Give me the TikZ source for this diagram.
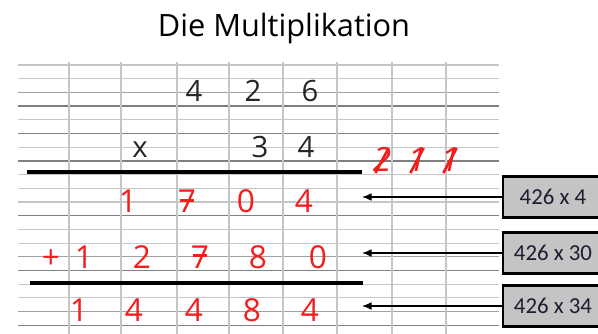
\documentclass[tikz,border=0pt]{standalone}
\usepackage{fontspec}
\setmainfont{Open Sans}
\newfontfamily\kastenschrift{Carlito}
\usetikzlibrary{arrows,arrows.meta}
\definecolor{rotstift}{RGB}{245,28,28}
\definecolor{linieHell}{RGB}{198,198,198}
\definecolor{linieMittel}{RGB}{160,160,160}
\definecolor{linieDunkel}{RGB}{128,128,128}
\definecolor{kastengrau}{RGB}{196,196,196}
\definecolor{kastentext}{RGB}{28,30,48}
\newcommand{\sieben}{\ooalign{7\cr\hidewidth\raisebox{0.36em}{\rule{0.42em}{0.07em}}\hidewidth\cr}}
\newcommand{\gestrichen}[1]{\ooalign{\textit{#1}\cr\hidewidth\raisebox{-0.05em}{\rotatebox{62}{\rule{0.85em}{0.08em}}}\hidewidth\cr}}
\begin{document}
\begin{tikzpicture}[%
        x=0.02cm, y=-0.02cm,
        every node/.style={inner sep=0pt, outer sep=0pt},
        titel/.style={anchor=base, font=\fontsize{17.5}{20}\selectfont},
        ziffer/.style={anchor=base, font=\fontsize{16.7}{19}\selectfont, text=black!85},
        rot/.style={anchor=base, font=\fontsize{18}{20}\selectfont, text=rotstift},
        uebertrag/.style={anchor=base, font=\fontsize{19}{22}\selectfont, text=rotstift},
        hell/.style={draw=linieHell, line width=0.6pt},
        mittel/.style={draw=linieMittel, line width=0.7pt},
        dunkel/.style={draw=linieDunkel, line width=0.8pt},
        senkrecht/.style={draw=linieHell, line width=0.9pt},
        strich/.style={draw=black, line width=2.4pt},
        kastenbox/.style={draw=black, line width=1.4pt, fill=kastengrau,
          minimum width=2cm, minimum height=0.82cm,
          font=\kastenschrift\fontsize{13}{14}\selectfont, text=kastentext},
        >={Latex[length=5.5pt,width=4.5pt]}
      ]
      \useasboundingbox (0,0) rectangle (598,334);
      % Linienpapier
      \foreach \k in {0,1,4,6,8,9,10,12,13,16,17}
        \draw [hell] (18,{65+13.7*\k}) -- (499,{65+13.7*\k});
      \foreach \k in {2,14,18}
        \draw [mittel] (18,{65+13.7*\k}) -- (499,{65+13.7*\k});
      \foreach \k in {3,5,7,11,15,19}
        \draw [dunkel] (18,{65+13.7*\k}) -- (499,{65+13.7*\k});
      \foreach \x in {69,121,177,229,283,337,392,446}
        \draw [senkrecht] (\x,62) -- (\x,334);
      \draw [strich] (27,172) -- (362,172);
      \draw [strich] (30,283) -- (363,283);

      \node [titel] (t) at (284,37) {Die Multiplikation};

      \node [ziffer] (a1) at (194,102) {4};
      \node [ziffer] (a2) at (253,102) {2};
      \node [ziffer] (a3) at (310,102) {6};
      \node [ziffer] (mal) at (140,158) {x};
      \node [ziffer] (b1) at (260,158) {3};
      \node [ziffer] (b2) at (306,158) {4};

      \node [uebertrag] (u1) at (382,172) {\gestrichen{2}};
      \node [uebertrag] (u2) at (417,172) {\gestrichen{1}};
      \node [uebertrag] (u3) at (450,172) {\gestrichen{1}};

      \node [rot] (p1) at (128,213) {1};
      \node [rot] (p2) at (187,213) {\sieben};
      \node [rot] (p3) at (246,213) {0};
      \node [rot] (p4) at (304,213) {4};

      \node [rot] (plus) at (51,268) {+};
      \node [rot] (q1) at (84,268) {1};
      \node [rot] (q2) at (142,268) {2};
      \node [rot] (q3) at (200,268) {\sieben};
      \node [rot] (q4) at (258,268) {8};
      \node [rot] (q5) at (318,268) {0};

      \node [rot] (s1) at (79,321) {1};
      \node [rot] (s2) at (134,321) {4};
      \node [rot] (s3) at (194,321) {4};
      \node [rot] (s4) at (252,321) {8};
      \node [rot] (s5) at (310,321) {4};

      \node [kastenbox] (k1) at (553,197) {426 x 4};
      \node [kastenbox] (k2) at (553,253) {426 x 30};
      \node [kastenbox] (k3) at (553,306) {426 x 34};
      \coordinate (e1) at (362,197);
      \coordinate (e2) at (362,253);
      \coordinate (e3) at (362,306);
      \path [draw, line width=0.8pt] (k1) edge[->] (e1)
      (k2) edge[->] (e2)
      (k3) edge[->] (e3);
    \end{tikzpicture}
\end{document}
